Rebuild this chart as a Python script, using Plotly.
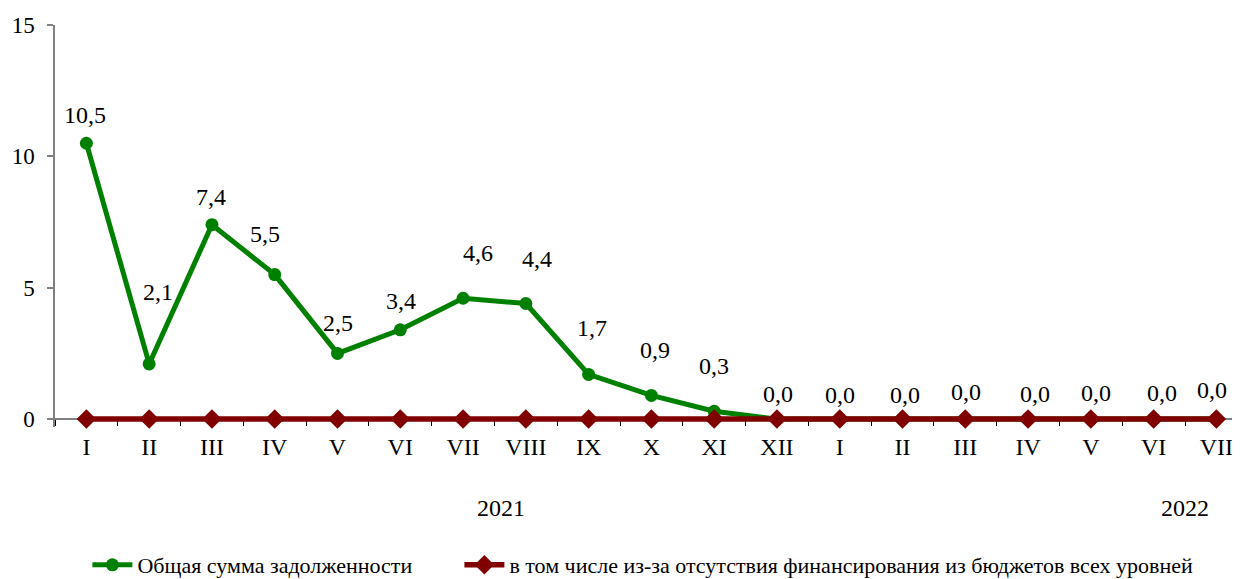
import plotly.graph_objects as go

months = ["I", "II", "III", "IV", "V", "VI", "VII", "VIII", "IX", "X", "XI", "XII",
          "I", "II", "III", "IV", "V", "VI", "VII"]
total_debt = [10.5, 2.1, 7.4, 5.5, 2.5, 3.4, 4.6, 4.4, 1.7, 0.9, 0.3, 0.0,
              0.0, 0.0, 0.0, 0.0, 0.0, 0.0, 0.0]
budget_debt = [0.0] * 19
years = ["2021", "2022"]
year_pos = [6.6, 17.5]

series1_name = "Общая сумма задолженности"
series2_name = "в том числе из-за отсутствия финансирования из бюджетов всех уровней"

# label offsets in pixels (style only), imitating the manual label placement
label_dx = [-1, 9, -1, -10, 0, 1, 15, 11, 3, 4, 0, 1, 0, 2, 1, 7, 5, 8, -4]
label_dy = [28, 71.5, 27.5, 40.5, 30, 28.5, 45.5, 44.5, 46, 45, 45, 25.5,
            24.5, 24.5, 27.5, 25.5, 26, 26, 29]

FONT = "Liberation Serif"
xs = list(range(len(months)))
Y_MIN = -0.3  # small room below zero so the zero line is not clipped

W, H = 1232, 571  # page has an 8px body margin

fig = go.Figure()
fig.add_trace(go.Scatter(
    x=xs, y=total_debt, mode="lines+markers", name=series1_name,
    line=dict(color="#008000", width=5),
    marker=dict(symbol="circle", size=13, color="#008000"),
    cliponaxis=False, legend="legend",
))
fig.add_trace(go.Scatter(
    x=xs, y=budget_debt, mode="lines+markers", name=series2_name,
    line=dict(color="#800000", width=5.5),
    marker=dict(symbol="diamond", size=15, color="#800000"),
    cliponaxis=False, legend="legend2",
))

for i, v in enumerate(total_debt):
    fig.add_annotation(
        x=xs[i], y=v, xref="x", yref="y",
        text=f"{v:.1f}".replace(".", ","), showarrow=False,
        xanchor="center", yanchor="middle",
        xshift=label_dx[i], yshift=label_dy[i],
        font=dict(family=FONT, size=24, color="black"),
    )

for yr, px in zip(years, year_pos):
    fig.add_annotation(
        x=px, y=-0.2018, xref="x", yref="paper", text=yr, showarrow=False,
        xanchor="center", yanchor="middle",
        font=dict(family=FONT, size=24, color="black"),
    )

legend_common = dict(
    orientation="h", xref="container", yref="container",
    y=14 / H, xanchor="left", yanchor="middle",
    font=dict(family=FONT, size=22, color="black"),
    itemwidth=40, bgcolor="rgba(0,0,0,0)",
)

fig.update_layout(
    width=W, height=H,
    margin=dict(l=47, r=0, t=17, b=152.1, autoexpand=False),
    paper_bgcolor="white", plot_bgcolor="white",
    font=dict(family=FONT, size=22, color="black"),
    showlegend=True,
    legend=dict(x=79.4 / W, **legend_common),
    legend2=dict(x=451.4 / W, **legend_common),
    xaxis=dict(
        automargin=False, anchor="free", position=(0 - Y_MIN) / (15 - Y_MIN),
        layer="below traces",
        range=[-0.5, 18.376], tickmode="array", tickvals=xs, ticktext=months,
        showgrid=False, zeroline=False, showline=True, linecolor="#808080", linewidth=1.5,
        ticks="", ticklabelstandoff=6,
        minor=dict(tickmode="linear", tick0=-0.5, dtick=1, ticks="outside",
                   ticklen=6, tickcolor="black", tickwidth=1, showgrid=False),
        tickfont=dict(family=FONT, size=24, color="black"),
    ),
    yaxis=dict(
        automargin=False,
        range=[Y_MIN, 15], tickmode="array", tickvals=[0, 5, 10, 15],
        showgrid=False, zeroline=False, showline=True, linecolor="#808080", linewidth=1.5,
        ticks="outside", ticklen=6, tickcolor="#808080", tickwidth=1.5,
        ticklabelstandoff=8,
        tickfont=dict(family=FONT, size=23, color="black"),
    ),
)

fig.write_html("out.html")
